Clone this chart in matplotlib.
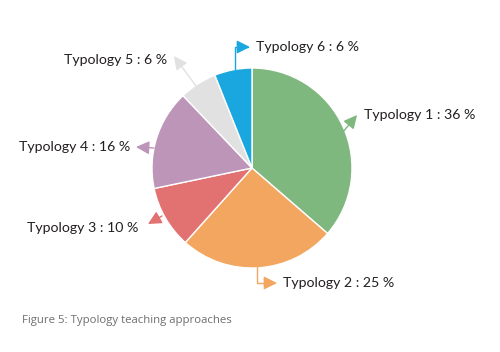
import matplotlib
matplotlib.use("Agg")
import matplotlib.pyplot as plt

# values
categories = ["Typology 1", "Typology 2", "Typology 3", "Typology 4", "Typology 5", "Typology 6"]
shares = [36, 25, 10, 16, 6, 6]
colors = ["#7fb87f", "#f2a65f", "#e27272", "#bd95b9", "#e1e1e2", "#1aa7df"]

W, H = 500, 352
fig = plt.figure(figsize=(5, 3.52), dpi=100)
ax = fig.add_axes([0, 0, 1, 1])

cx, cy, r = 252, H - 168, 100
ax.pie(shares, colors=colors, startangle=90, counterclock=False,
       center=(cx, cy), radius=r, frame=True,
       wedgeprops=dict(edgecolor="white", linewidth=1))
ax.set_xlim(0, W)
ax.set_ylim(0, H)
ax.set_aspect("equal")
ax.axis("off")

elbow = "angle,angleA=90,angleB=0,rad=0"
# label layout: (text x, text y, ha, arrow tail, arrow head, connection)
layout = [
    (364, 115, "left", (338, 138), (357, 115), "arc3"),
    (283, 283, "left", (257, 266), (277, 283), elbow),
    (138, 228, "right", (162, 216), (148, 224), "arc3"),
    (130, 147, "right", (154, 148), (136, 147), "arc3"),
    (167, 60, "right", (196, 86), (174, 56), "arc3"),
    (256, 47, "left", (235, 70), (250, 47), elbow),
]

for name, val, col, (tx, ty, ha, tail, head, conn) in zip(categories, shares, colors, layout):
    ax.annotate("", xy=(head[0], H - head[1]), xytext=(tail[0], H - tail[1]),
                arrowprops=dict(arrowstyle="-|>,head_length=0.8,head_width=0.4",
                                color=col, lw=1, connectionstyle=conn,
                                shrinkA=0, shrinkB=0))
    ax.text(tx, H - ty, f"{name} : {val} %", ha=ha, va="center",
            fontsize=10.2, family="Lato", color="#231f20")

fig.text(22 / W, 1 - 320 / H, "Figure 5: Typology teaching approaches",
         fontsize=8.2, family="Open Sans", color="#6d6e70", va="center")

fig.savefig("out.png", dpi=100, facecolor="white")
